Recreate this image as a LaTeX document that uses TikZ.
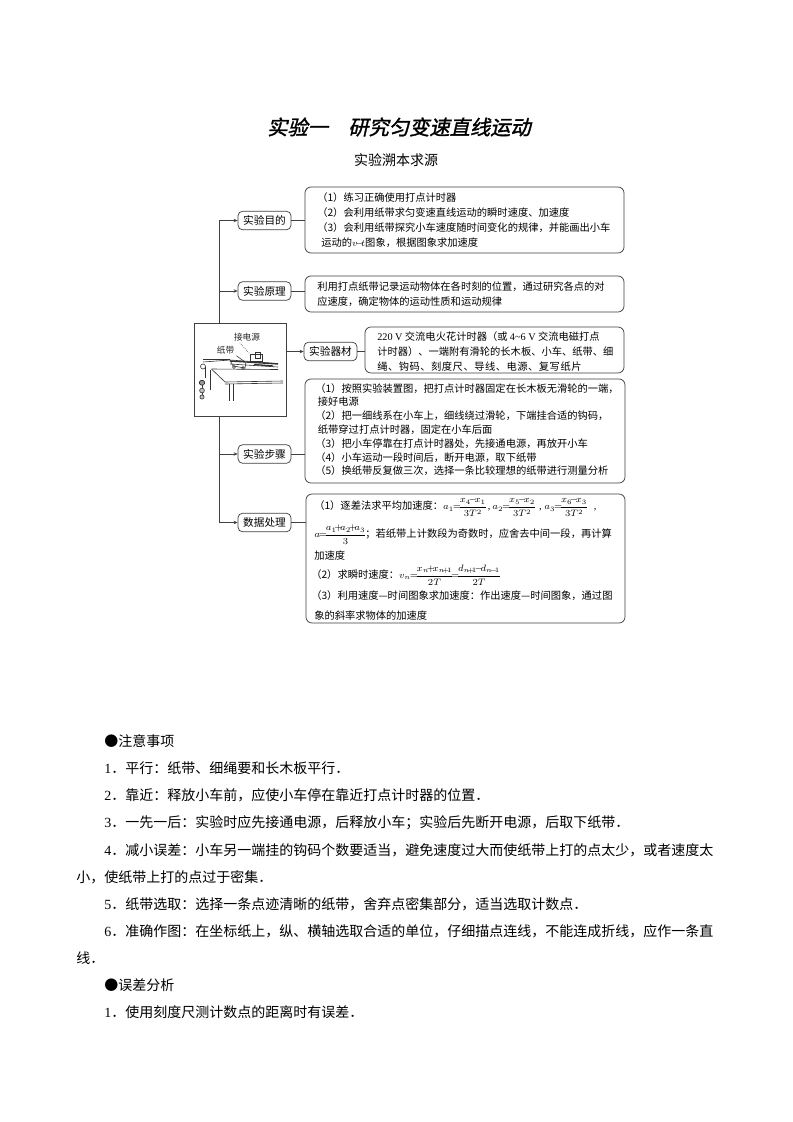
\documentclass[tikz,border=0pt]{standalone}
\usepackage{fontspec}
\usepackage{amsmath}
\usetikzlibrary{arrows.meta,calc}
\setmainfont{Noto Sans CJK SC}
\newfontfamily\latf{Liberation Serif}
\newfontfamily\titlef[FakeSlant=0.22,FakeBold=1.5]{Noto Sans CJK SC}
\newcommand{\Lf}[1]{{\latf #1}}
\newcommand{\Mth}[1]{{\fontsize{7}{8}\selectfont\nulldelimiterspace=0pt$#1$}}
\newcommand{\mn}{\mkern-4mu{-}\mkern-4mu}
\newcommand{\pl}{\mkern-4mu{+}\mkern-4mu}
\newcommand{\eqq}{\mkern-2mu{=}\mkern-2mu}
\tikzset{
  ink/.style={draw=black!75,line width=0.55pt},
  infobox/.style={ink,rounded corners=4.5pt,inner sep=0pt},
  tagbox/.style={ink,rounded corners=3.5pt,inner sep=0pt,minimum width=39.75pt,minimum height=14pt,font=\fontsize{8}{10}\selectfont},
  boxtext/.style={inner sep=0pt,anchor=north west,align=left,font=\fontsize{7.7}{11.25}\selectfont,text=black},
  rowtext/.style={inner sep=0pt,anchor=west,font=\fontsize{7.7}{10}\selectfont,text=black},
  bodyline/.style={inner sep=0pt,anchor=west,font=\fontsize{10.5}{12}\selectfont,text=black},
  conn/.style={ink,-{Stealth[length=3pt,width=2.6pt]}},
  link/.style={ink},
  sketch/.style={draw=black!80,line width=0.45pt},
  heavy/.style={draw=black!80,line width=1pt},
  tiny/.style={inner sep=0pt,font=\fontsize{6.5}{8}\selectfont,text=black!85}
}
\begin{document}
\begin{tikzpicture}[x=0.75pt,y=-0.75pt]
\useasboundingbox[fill=white] (0,0) rectangle (793,1122);

\node[inner sep=0pt,font=\titlef\fontsize{15.2}{17}\selectfont] (title) at (399,127) {实验一\hspace{1em}研究匀变速直线运动};
\node[inner sep=0pt,font=\fontsize{10.5}{12}\selectfont] (subtitle) at (396,160.5) {实验溯本求源};

% boxes
\node[infobox,minimum width=239.25pt,minimum height=49.5pt] (b1) at (464.5,220) {};
\node[infobox,minimum width=239.25pt,minimum height=27pt] (b2) at (464.5,294) {};
\node[infobox,minimum width=194.25pt,minimum height=34.5pt] (b3) at (494.5,350) {};
\node[infobox,minimum width=240pt,minimum height=78pt] (b4) at (465,431) {};
\node[infobox,minimum width=239.25pt,minimum height=96.75pt] (b5) at (465.5,558.5) {};

% tags
\node[tagbox] (t1) at (264.5,220.5) {实验目的};
\node[tagbox] (t2) at (264.5,291) {实验原理};
\node[tagbox] (t3) at (330.5,351.5) {实验器材};
\node[tagbox] (t4) at (264.5,454) {实验步骤};
\node[tagbox] (t5) at (264.5,522.5) {数据处理};

% apparatus frame
\node[ink,minimum width=69pt,minimum height=69.75pt,inner sep=0pt] (app) at (240,369.5) {};
\coordinate (ttop) at (219.5,323);
\coordinate (tbot) at (219.5,416);

% connectors
\draw[conn] (ttop) |- (t1.west);
\draw[conn] (ttop |- t2.west) -- (t2.west);
\draw[conn] (tbot) |- (t4.west);
\draw[conn] (tbot) |- (t5.west);
\draw[conn] (app.east |- t3.west) -- (t3.west);
\draw[link] (t1.east) -- (t1.east -| b1.west);
\draw[link] (t2.east) -- (t2.east -| b2.west);
\draw[link] (t3.east) -- (t3.east -| b3.west);
\draw[link] (t4.east) -- (t4.east -| b4.west);
\draw[link] (t5.east) -- (t5.east -| b5.west);

% box texts
\node[boxtext] (x1) at (317,192) {（1）练习正确使用打点计时器\\（2）会利用纸带求匀变速直线运动的瞬时速度、加速度\\（3）会利用纸带探究小车速度随时间变化的规律，并能画出小车\\\hspace*{3pt}运动的\Mth{v\mn t}图象，根据图象求加速度};
\node[boxtext] (x2) at (317,281.5) {利用打点纸带记录运动物体在各时刻的位置，通过研究各点的对\\应速度，确定物体的运动性质和运动规律};
\node[boxtext] (x3) at (377,331.5) {\Lf{220 V} 交流电火花计时器（或 \Lf{4\char"7E 6 V} 交流电磁打点\\计时器）、一端附有滑轮的长木板、小车、纸带、细\\{\addfontfeature{LetterSpace=5}绳、钩码、刻度尺、导线、电源、复写纸片}};
\node[boxtext,font=\fontsize{7.7}{10.35}\selectfont] (x4) at (315,383) {（1）按照实验装置图，把打点计时器固定在长木板无滑轮的一端，\\\hspace*{2pt}接好电源\\（2）把一细线系在小车上，细线绕过滑轮，下端挂合适的钩码，\\\hspace*{2pt}纸带穿过打点计时器，固定在小车后面\\（3）把小车停靠在打点计时器处，先接通电源，再放开小车\\（4）小车运动一段时间后，断开电源，取下纸带\\（5）换纸带反复做三次，选择一条比较理想的纸带进行测量分析};

\node[rowtext] (r1) at (314,507) {（1）逐差法求平均加速度：\Mth{a_1\eqq\dfrac{x_4\mn x_1}{3T^2}}\hspace{1.5pt}\Lf{,}\hspace{1.5pt}\Mth{a_2\eqq\dfrac{x_5\mn x_2}{3T^2}}\hspace{3pt}\Lf{,}\hspace{2pt}\Mth{a_3\eqq\dfrac{x_6\mn x_3}{3T^2}}\hspace{5pt}\Lf{,}};
\node[rowtext] (r2) at (314,535) {\Mth{a\eqq\dfrac{a_1\pl a_2\pl a_3}{3}}；若纸带上计数段为奇数时，应舍去中间一段，再计算};
\node[rowtext] (r3) at (314,556) {加速度};
\node[rowtext] (r4) at (311,575) {（2）求瞬时速度：\Mth{v_n\eqq\dfrac{x_n\pl x_{n\pl 1}}{2T}\eqq\dfrac{d_{n\pl 1}\mn d_{n\mn 1}}{2T}}};
\node[rowtext] (r5) at (311,596) {（3）利用速度—时间图象求加速度：作出速度—时间图象，通过图};
\node[rowtext] (r6) at (314,616) {象的斜率求物体的加速度};

% apparatus sketch
\node[tiny] (lpower) at (247,337.5) {接电源};
\node[tiny] (ltape) at (225.5,350.5) {纸带};
\draw[sketch] (203,362) -- (230,360) -- (278,363.5);
\draw[sketch] (203,359) -- (230,359);
\draw[heavy] (230,361) -- (278,364);
\draw[sketch] (230,364) -- (278,367);
\draw[sketch] (211.5,369) -- (278,369.5);
\draw[sketch] (211.5,369) -- (225,382) -- (283,381);
\draw[sketch] (225,384) -- (283,383);
\draw[sketch] (229,384) -- (229,401);
\draw[sketch] (233.5,384) -- (233.5,401);
\draw[sketch] (210,370) -- (210,390);
\draw[sketch] (205,367) -- (205,378);
\draw[sketch] (203,366.5) circle (2.5);
\draw[sketch,fill=black!40,rounded corners=1pt] (199.5,380.5) rectangle (204.5,385);
\draw[sketch] (202,385) -- (202,388);
\draw[sketch,fill=black!25] (202,390.5) circle (2.4);
\draw[sketch] (202,393) -- (202,395);
\draw[sketch,fill=black!25] (202,397) circle (2.1);
\draw[sketch] (230,360) -- (233,366) -- (245,368) -- (246,362);
\draw[sketch] (234,367) circle (1.5);
\draw[sketch] (243,368) circle (1.5);
\draw[sketch] (250,354) rectangle (262,361);
\draw[heavy] (254,364.5) -- (273,366);
\draw[sketch] (255,352) rectangle (260,358);
\draw[sketch,densely dotted] (lpower.south west) ++(6,1) -- (250,354);
\draw[sketch] (ltape.south east) ++(2,1) -- (245,362);

% body text
\node[bodyline] (n0) at (104,741) {●注意事项};
\node[bodyline] (n1) at (104,768) {\Lf{1}．平行：纸带、细绳要和长木板平行．};
\node[bodyline] (n2) at (104,795) {\Lf{2}．靠近：释放小车前，应使小车停在靠近打点计时器的位置．};
\node[bodyline] (n3) at (104,822.5) {\Lf{3}．一先一后：实验时应先接通电源，后释放小车；实验后先断开电源，后取下纸带．};
\node[bodyline] (n4) at (104,850) {\Lf{4}．减小误差：小车另一端挂的钩码个数要适当，避免速度过大而使纸带上打的点太少，或者速度太};
\node[bodyline] (n4b) at (76,877) {小，使纸带上打的点过于密集．};
\node[bodyline] (n5) at (104,904) {\Lf{5}．纸带选取：选择一条点迹清晰的纸带，舍弃点密集部分，适当选取计数点．};
\node[bodyline] (n6) at (104,931) {\Lf{6}．准确作图：在坐标纸上，纵、横轴选取合适的单位，仔细描点连线，不能连成折线，应作一条直};
\node[bodyline] (n6b) at (76,958) {线．};
\node[bodyline] (e0) at (104,985) {●误差分析};
\node[bodyline] (e1) at (104,1012.5) {\Lf{1}．使用刻度尺测计数点的距离时有误差．};
\end{tikzpicture}
\end{document}
